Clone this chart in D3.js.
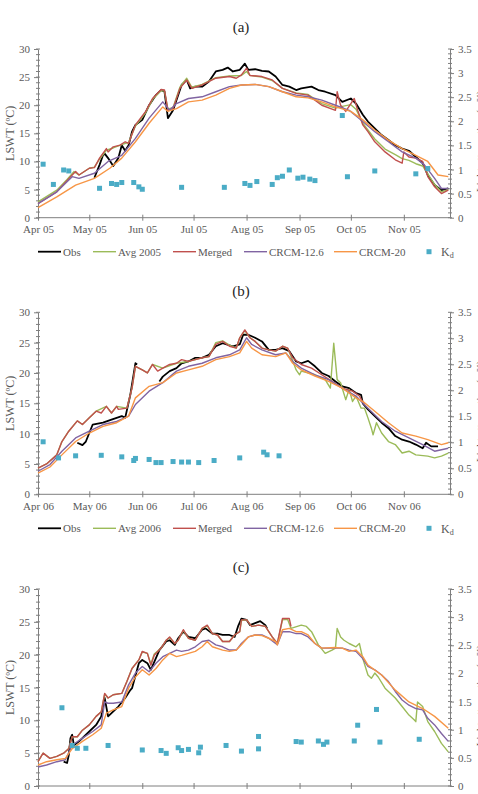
<!DOCTYPE html>
<html>
<head>
<meta charset="utf-8">
<script src="https://cdn.jsdelivr.net/npm/d3@7"></script>
<style>
  body { margin: 0; background: #fff; }
  svg { display: block; font-family: 'Liberation Serif', 'Times New Roman', serif; }
</style>
</head>
<body>
<div class="vis"></div>
<script>
// each point is [days after 1 April, value]; null marks a gap in the record
const obs05 = [[33,7.1],[36,9.4],[38,11.1],[39,11.4],[41,10.6],[44,9.2],[47,10.6],[49,12.9],[51,11.9],[53,12.9],[55,15.3],[57,16.5],[61,17.4],[65,20.0],[69,21.8],[72,22.7],[74,22.4],[76,17.7],[79,19.1],[84,23.6],[87,24.5],[89,23.0],[92,23.3],[96,23.3],[100,24.2],[104,26.0],[108,26.3],[111,26.7],[114,26.0],[118,26.3],[121,27.4],[123,26.3],[127,26.4],[131,26.1],[135,26.0],[139,25.1],[143,23.6],[147,23.3],[151,22.7],[154,23.0],[160,23.3],[164,22.7],[168,22.4],[174,21.8],[178,20.6],[183,21.2],[186,20.3],[190,18.3],[193,17.1],[197,15.9],[201,14.7],[205,13.8],[209,12.9],[213,12.3],[217,11.9],[221,10.8],[225,9.7],[228,7.6],[232,5.8],[236,4.9],[240,5.2]]
const avg05 = [[0,2.8],[11,4.9],[17,6.8],[21,8.2],[24,7.6],[30,8.8],[33,9.0],[36,10.4],[40,12.0],[44,12.4],[49,13.0],[53,13.4],[57,16.3],[63,18.7],[67,21.0],[72,22.6],[74,22.5],[76,19.3],[79,19.6],[83,23.2],[87,24.8],[90,23.2],[96,23.7],[104,24.9],[112,25.2],[119,25.3],[122,26.0],[124,25.3],[131,25.0],[137,24.4],[143,23.0],[151,22.2],[158,21.9],[166,20.3],[174,19.5],[178,19.8],[183,20.1],[186,19.3],[190,16.8],[193,15.6],[197,14.0],[203,12.2],[209,11.2],[213,10.5],[217,10.2],[221,9.6],[225,9.2],[228,7.8],[232,5.9],[236,4.6],[240,5.0]]
const merged05 = [[0,2.5],[11,4.6],[20,7.6],[22,8.2],[24,7.6],[30,8.8],[33,8.9],[36,10.6],[40,12.3],[41,11.7],[44,12.6],[48,12.9],[51,13.5],[53,13.2],[57,16.5],[63,18.9],[67,21.2],[72,22.8],[74,22.7],[76,19.1],[79,19.4],[83,23.0],[87,24.5],[90,23.0],[96,23.6],[104,24.8],[112,25.1],[116,24.8],[119,25.4],[122,26.6],[124,25.3],[131,25.1],[137,24.5],[143,23.0],[151,22.1],[158,21.8],[166,20.0],[174,19.1],[175,22.4],[177,20.0],[180,18.9],[183,20.3],[185,21.2],[187,19.1],[190,16.5],[193,15.3],[197,13.5],[203,11.7],[209,10.3],[213,9.7],[214,11.7],[217,10.8],[221,10.6],[225,10.0],[228,7.3],[232,5.5],[236,4.3],[240,4.9]]
const crcm126_05 = [[0,2.5],[11,4.6],[20,7.3],[24,7.0],[33,7.9],[41,10.0],[49,11.1],[57,14.1],[65,17.7],[73,20.6],[77,19.1],[81,20.3],[88,21.2],[96,21.5],[104,22.4],[112,23.3],[119,23.6],[127,23.7],[135,23.3],[143,22.4],[151,21.8],[158,21.5],[166,20.9],[174,20.0],[182,19.1],[190,17.1],[197,15.3],[205,13.5],[213,11.7],[221,10.6],[226,9.4],[232,7.0],[236,5.2],[240,5.2]]
const crcm20_05 = [[0,1.8],[11,3.7],[22,5.8],[33,7.0],[42,8.8],[49,10.6],[57,13.5],[65,16.8],[73,19.7],[76,18.9],[81,19.4],[88,20.6],[96,20.9],[104,21.8],[112,23.0],[119,23.6],[127,23.7],[135,23.3],[143,22.4],[151,21.5],[158,21.3],[166,20.6],[174,19.7],[183,18.9],[190,17.4],[197,15.6],[205,13.8],[213,12.3],[221,11.1],[228,10.0],[231,8.8],[234,7.6],[240,7.3]]
const kd05 = [[3,1.11],[9,0.69],[15,0.99],[18,0.97],[36,0.61],[43,0.71],[46,0.69],[49,0.73],[56,0.73],[59,0.64],[61,0.59],[84,0.63],[109,0.63],[121,0.71],[124,0.67],[128,0.75],[137,0.69],[140,0.83],[143,0.86],[147,0.99],[152,0.82],[155,0.84],[159,0.80],[162,0.77],[178,2.12],[181,0.85],[197,0.97],[221,0.91],[228,1.02]]

const obs06 = [[23,8.5],[26,8.1],[28,8.7],[32,11.5],[38,11.8],[43,12.3],[49,12.9],[51,12.6],[54,16.4],[57,21.6],[58,21.4],[59,null],[71,18.6],[73,19.4],[77,20.3],[81,20.8],[84,21.6],[88,21.9],[92,22.5],[96,22.5],[100,23.0],[104,24.4],[108,24.9],[114,24.4],[118,24.7],[120,26.3],[123,26.3],[127,25.8],[131,25.2],[135,23.8],[139,23.8],[143,24.1],[147,23.6],[151,21.9],[154,21.6],[158,22.0],[162,21.1],[166,20.0],[170,19.5],[174,18.6],[178,17.8],[182,17.5],[186,16.7],[189,16.4],[190,15.0],[193,14.0],[197,12.9],[201,11.8],[205,10.9],[209,9.6],[213,9.0],[217,8.7],[221,8.2],[225,7.6],[227,8.5],[230,7.9],[234,7.9]]
const avg06 = [[0,4.3],[5,5.0],[11,6.5],[14,8.7],[18,10.4],[23,12.1],[26,11.5],[30,12.6],[34,13.7],[40,14.5],[43,13.4],[46,14.5],[52,14.2],[55,17.5],[57,21.1],[61,20.5],[64,20.0],[67,21.4],[73,20.8],[81,21.6],[88,21.9],[96,22.5],[100,22.7],[104,25.0],[108,25.3],[112,24.6],[116,24.1],[118,25.8],[121,27.0],[124,25.8],[127,25.2],[131,24.1],[135,23.8],[139,23.6],[143,24.4],[146,24.1],[149,22.0],[151,20.5],[153,19.7],[154,20.3],[162,19.7],[168,18.9],[171,17.5],[173,24.9],[174,21.9],[175,18.9],[177,18.4],[180,15.6],[182,17.3],[184,15.3],[186,16.2],[189,14.2],[191,14.2],[193,12.6],[195,10.9],[196,9.8],[198,11.8],[201,10.1],[205,8.7],[209,8.2],[213,6.8],[217,7.1],[221,6.5],[228,6.3],[232,6.0],[236,6.3],[240,6.8]]
const merged06 = [[0,4.3],[5,5.0],[11,6.5],[14,8.7],[18,10.4],[23,12.1],[26,11.5],[30,12.6],[34,13.7],[37,13.4],[40,14.5],[43,13.4],[46,14.5],[47,14.0],[52,14.2],[55,17.5],[57,21.1],[61,20.5],[64,20.0],[67,21.4],[70,20.3],[73,20.8],[77,21.4],[81,21.6],[84,22.2],[88,21.9],[92,22.2],[96,22.5],[100,22.7],[104,24.7],[108,25.2],[112,24.4],[116,24.1],[118,25.8],[121,27.1],[124,25.8],[127,25.2],[131,24.1],[135,23.8],[139,23.6],[143,24.4],[146,24.1],[149,22.5],[154,21.4],[160,20.8],[166,19.7],[172,18.6],[178,17.5],[184,17.0],[188,16.2],[191,14.8]]
const crcm126_06 = [[0,3.8],[7,4.9],[14,7.1],[22,9.3],[30,10.4],[38,11.5],[46,12.0],[53,12.9],[57,14.8],[65,17.0],[73,18.4],[81,20.3],[88,21.1],[96,21.6],[104,22.5],[112,23.0],[118,23.8],[122,25.8],[125,24.7],[131,23.8],[139,23.0],[145,23.3],[149,21.9],[154,20.8],[162,19.7],[170,18.9],[178,17.5],[186,16.2],[193,14.2],[201,12.0],[209,10.4],[217,9.3],[225,8.2],[232,7.1],[240,7.6]]
const crcm20_06 = [[0,3.5],[7,4.5],[14,6.5],[22,8.7],[30,10.1],[38,11.2],[46,11.8],[53,12.9],[57,15.9],[65,17.8],[73,18.4],[81,20.0],[88,20.5],[96,21.1],[104,22.2],[112,22.7],[118,23.3],[122,25.2],[125,24.1],[131,23.0],[139,22.7],[145,23.3],[149,21.6],[154,20.5],[162,19.5],[170,18.6],[178,17.5],[186,15.9],[191,15.1],[197,13.7],[205,11.8],[213,10.1],[221,9.6],[228,9.0],[236,8.2],[240,8.5]]
const kd06 = [[3,1.01],[12,0.70],[22,0.74],[37,0.75],[49,0.72],[56,0.65],[57,0.69],[65,0.67],[69,0.61],[72,0.61],[79,0.63],[84,0.62],[88,0.62],[94,0.61],[103,0.65],[118,0.70],[132,0.81],[134,0.76],[141,0.74]]

const obs07 = [[15,3.7],[17,3.5],[18,4.7],[19,7.3],[20,7.8],[21,6.2],[24,6.8],[30,8.3],[34,9.3],[37,10.6],[39,13.4],[41,10.6],[43,11.1],[47,12.1],[51,13.4],[54,14.6],[55,14.9],[59,18.7],[61,19.2],[64,18.7],[66,17.7],[71,20.7],[75,22.0],[77,22.2],[80,21.5],[82,22.5],[85,23.5],[88,22.7],[92,22.5],[96,23.8],[98,24.0],[102,23.2],[105,23.2],[108,23.0],[112,23.0],[115,22.7],[117,24.3],[119,25.5],[122,25.3],[124,24.5],[127,24.8],[130,25.1],[133,24.5],[134,24.0]]
const avg07 = [[0,3.7],[3,5.0],[7,4.2],[11,4.5],[15,5.0],[18,5.7],[20,7.5],[23,7.5],[26,8.5],[30,9.3],[34,10.6],[37,11.3],[39,14.0],[41,13.4],[44,13.9],[49,14.1],[52,15.9],[55,17.9],[59,19.2],[61,20.4],[64,20.2],[66,18.6],[68,20.1],[72,21.0],[75,22.2],[77,22.6],[80,21.7],[82,22.2],[85,23.7],[88,22.5],[92,22.2],[96,24.0],[99,24.4],[102,23.2],[105,23.0],[108,22.0],[112,22.0],[115,23.0],[118,23.5],[119,25.2],[122,25.3],[125,24.3],[129,24.5],[133,24.3],[137,22.7],[140,21.7],[143,25.3],[146,25.4],[148,24.0],[154,24.5],[157,24.3],[160,23.5],[164,21.5],[168,20.2],[172,20.7],[174,21.0],[175,24.0],[177,22.7],[179,22.2],[182,21.7],[186,21.2],[188,21.7],[190,19.4],[193,16.9],[195,16.4],[197,17.2],[199,16.6],[203,14.9],[209,13.4],[213,12.1],[217,10.8],[220,10.1],[221,9.8],[222,12.8],[225,12.1],[228,9.8],[232,8.3],[236,6.5],[240,5.2]]
const merged07 = [[0,3.7],[3,5.0],[7,4.2],[11,4.5],[15,5.0],[18,5.7],[20,7.5],[23,7.5],[26,8.5],[30,9.3],[34,10.6],[37,11.3],[39,14.1],[41,13.4],[44,13.9],[49,14.1],[52,15.9],[55,17.9],[59,19.2],[61,20.5],[64,20.2],[66,18.4],[68,19.9],[72,21.0],[75,22.2],[77,22.7],[80,21.7],[82,22.2],[85,23.8],[88,22.5],[92,22.2],[96,24.0],[99,24.5],[102,23.2],[105,23.0],[108,22.0],[112,22.0],[115,23.0],[118,23.5],[119,25.3],[122,25.3],[125,24.3],[129,24.5],[133,24.3],[137,22.7],[140,21.7],[143,25.5],[146,25.5],[147,25.5],[148,24.3]]
const crcm126_07 = [[0,2.9],[5,3.2],[11,3.7],[16,4.0],[20,6.2],[26,7.3],[32,8.3],[37,9.3],[39,12.8],[41,12.6],[44,12.6],[49,12.8],[53,15.4],[57,17.2],[61,18.2],[65,17.4],[69,18.7],[73,19.7],[77,20.2],[81,20.7],[84,20.5],[88,20.7],[92,21.2],[96,22.0],[100,22.2],[104,21.5],[108,21.2],[112,20.7],[116,20.7],[119,21.7],[123,22.7],[127,23.0],[131,23.0],[135,22.5],[139,21.7],[140,21.5],[143,23.5],[147,23.5],[151,23.2],[154,23.2],[158,22.7],[162,21.7],[166,21.0],[170,21.0],[174,21.0],[178,21.0],[182,20.7],[186,20.5],[190,19.4],[193,18.2],[197,17.7],[201,16.9],[205,15.9],[209,14.4],[213,13.1],[217,12.3],[221,11.8],[225,11.6],[228,10.3],[232,9.3],[236,8.0],[240,6.8]]
const crcm20_07 = [[0,3.2],[5,3.7],[11,4.0],[16,4.2],[20,5.7],[26,6.8],[32,7.8],[37,8.8],[40,11.1],[44,11.6],[49,12.1],[53,14.9],[57,16.6],[61,17.7],[65,16.9],[69,17.9],[73,19.2],[77,20.2],[81,19.7],[84,19.9],[88,20.2],[92,20.5],[96,21.2],[99,22.0],[102,21.2],[108,20.7],[112,20.5],[116,20.7],[119,21.5],[123,22.7],[127,23.0],[131,22.9],[135,22.5],[139,22.0],[140,21.5],[143,23.8],[147,24.0],[151,23.5],[154,23.5],[158,23.0],[162,21.7],[166,21.0],[174,21.1],[178,21.0],[182,20.5],[186,20.7],[190,19.7],[193,18.4],[201,16.9],[209,14.6],[217,12.8],[225,11.8],[232,10.6],[240,8.8]]
const kd07 = [[14,1.39],[20,0.72],[23,0.67],[28,0.67],[41,0.72],[61,0.64],[72,0.63],[75,0.58],[82,0.68],[84,0.63],[88,0.65],[94,0.59],[95,0.69],[110,0.72],[119,0.62],[129,0.66],[129,0.88],[151,0.79],[154,0.78],[164,0.80],[167,0.74],[169,0.78],[185,0.80],[187,1.08],[198,1.36],[200,0.78],[223,0.83]]

const seriesNames = ['Obs', 'Avg', 'Merged', 'CRCM-12.6', 'CRCM-20']
const leftTicks = [0, 5, 10, 15, 20, 25, 30]
const rightTicks = [0, 0.5, 1, 1.5, 2, 2.5, 3, 3.5]

const color = d3.scaleOrdinal(seriesNames.concat('Kd'), [
  '#000000',
  '#9bbb59',
  '#c0504d',
  '#8064a2',
  '#f79646',
  '#4bacc6'
])

// the last panel is cut at the bottom of the page, so its month labels are not drawn
const panels = [
  { label: '(a)', year: 2005, top: 49, bottom: 217.7, monthLabels: true,
    lines: [obs05, avg05, merged05, crcm126_05, crcm20_05], kd: kd05 },
  { label: '(b)', year: 2006, top: 312.3, bottom: 494.3, monthLabels: true,
    lines: [obs06, avg06, merged06, crcm126_06, crcm20_06], kd: kd06 },
  { label: '(c)', year: 2007, top: 589, bottom: 786, monthLabels: false,
    lines: [obs07, avg07, merged07, crcm126_07, crcm20_07], kd: kd07 }
]

const width = 478
const height = 794
const left = 38
const right = 450
const axisColor = '#7f7f7f'
const textColor = '#595959'

const svg = d3
  .select('.vis')
  .append('svg')
  .attr('width', width)
  .attr('height', height)

panels.forEach(p => {
  const start = new Date(p.year, 3, 1)
  const x = d3
    .scaleTime()
    .domain([start, new Date(p.year, 10, 28)])
    .range([left, right])
  const y = d3.scaleLinear().domain([0, 30]).range([p.bottom, p.top])
  const yKd = d3.scaleLinear().domain([0, 3.5]).range([p.bottom, p.top])
  const day = d => d3.timeDay.offset(start, d)

  const g = svg.append('g')

  // panel title
  g.append('text')
    .attr('x', 241)
    .attr('y', p.top - 22)
    .attr('dy', '0.35em')
    .attr('text-anchor', 'middle')
    .attr('font-size', 15)
    .attr('fill', '#262626')
    .text(p.label)

  // x axis
  const xAxis = d3
    .axisBottom(x)
    .tickValues(d3.timeMonth.range(start, new Date(p.year, 10, 2)))
    .tickFormat(p.monthLabels ? d3.timeFormat('%b %y') : '')
    .tickSizeInner(3)
    .tickSizeOuter(0)
    .tickPadding(5)
  const gx = g
    .append('g')
    .attr('transform', `translate(0,${p.bottom})`)
    .call(xAxis)
  gx.select('.domain').attr('stroke', axisColor).attr('d', `M${left},0H${right}`)
  gx.selectAll('.tick line').attr('y1', -3).attr('y2', 3).attr('stroke', axisColor)
  if (!p.monthLabels) gx.selectAll('.tick text').remove()

  // left axis, major and minor ticks
  const yAxis = d3
    .axisLeft(y)
    .tickValues(leftTicks)
    .tickSizeInner(4)
    .tickSizeOuter(0)
    .tickPadding(4)
  const gy = g
    .append('g')
    .attr('transform', `translate(${left},0)`)
    .call(yAxis)
  gy.select('.domain').attr('stroke', axisColor)
  gy.selectAll('.tick line').attr('stroke', axisColor)
  gy.selectAll('.minor')
    .data(d3.range(0, 31, 1))
    .join('line')
    .attr('class', 'minor')
    .attr('x1', -2)
    .attr('x2', 2)
    .attr('y1', d => y(d))
    .attr('y2', d => y(d))
    .attr('stroke', axisColor)

  g.append('text')
    .attr('transform', `translate(14,${(p.top + p.bottom) / 2}) rotate(-90)`)
    .attr('text-anchor', 'middle')
    .attr('font-size', 12)
    .attr('fill', textColor)
    .text('LSWT (ºC)')

  // right axis for Kd
  const yAxisR = d3
    .axisRight(yKd)
    .tickValues(rightTicks)
    .tickFormat(d3.format('~g'))
    .tickSizeInner(4)
    .tickSizeOuter(0)
    .tickPadding(4)
  const gr = g
    .append('g')
    .attr('transform', `translate(${right},0)`)
    .call(yAxisR)
  gr.select('.domain').attr('stroke', axisColor)
  gr.selectAll('.tick line').attr('stroke', axisColor)
  gr.selectAll('.minor')
    .data(d3.range(0, 36, 1).map(d => d / 10))
    .join('line')
    .attr('class', 'minor')
    .attr('x1', -2)
    .attr('x2', 2)
    .attr('y1', d => yKd(d))
    .attr('y2', d => yKd(d))
    .attr('stroke', axisColor)

  // right title: only the tops of its letters fall inside the page
  g.append('text')
    .attr('transform', `translate(484,${(p.top + p.bottom) / 2 + 8}) rotate(-90)`)
    .attr('text-anchor', 'middle')
    .attr('font-size', 11)
    .attr('fill', textColor)
    .text('Light attenuation (m⁻¹)')

  ;[gx, gy, gr].forEach(a =>
    a.selectAll('.tick text').attr('fill', textColor).attr('font-size', 11).attr('font-family', 'Liberation Serif')
  )

  // temperature lines
  const line = d3
    .line()
    .defined(d => d[1] !== null)
    .x(d => x(day(d[0])))
    .y(d => y(d[1]))

  p.lines.forEach((data, i) => {
    g.append('path')
      .datum(data)
      .attr('fill', 'none')
      .attr('stroke', color(seriesNames[i]))
      .attr('stroke-width', i === 0 ? 1.8 : 1.4)
      .attr('stroke-linejoin', 'round')
      .attr('d', line)
  })

  // Kd points
  g.selectAll('.kd')
    .data(p.kd)
    .join('rect')
    .attr('class', 'kd')
    .attr('x', d => x(day(d[0])) - 2.5)
    .attr('y', d => yKd(d[1]) - 2.5)
    .attr('width', 5)
    .attr('height', 5)
    .attr('fill', color('Kd'))

  // legend
  const legendY = p.bottom + 34
  const items = [
    { key: 'Obs', text: 'Obs', x: 38 },
    { key: 'Avg', text: `Avg ${p.year}`, x: 93 },
    { key: 'Merged', text: 'Merged', x: 173 },
    { key: 'CRCM-12.6', text: 'CRCM-12.6', x: 244 },
    { key: 'CRCM-20', text: 'CRCM-20', x: 334 }
  ]
  const lg = g.append('g').attr('transform', `translate(0,${legendY})`)
  items.forEach(it => {
    lg.append('line')
      .attr('x1', it.x)
      .attr('x2', it.x + 23)
      .attr('stroke', color(it.key))
      .attr('stroke-width', it.key === 'Obs' ? 1.8 : 1.4)
    lg.append('text')
      .attr('x', it.x + 25)
      .attr('dy', '0.35em')
      .attr('font-size', 11)
      .attr('fill', textColor)
      .text(it.text)
  })
  lg.append('rect')
    .attr('x', 426.5)
    .attr('y', -2.5)
    .attr('width', 5)
    .attr('height', 5)
    .attr('fill', color('Kd'))
  const kdText = lg.append('text')
    .attr('x', 441)
    .attr('dy', '0.35em')
    .attr('font-size', 12)
    .attr('fill', textColor)
    .text('K')
  kdText.append('tspan').attr('font-size', 8).attr('dy', '0.25em').text('d')
})
</script>
</body>
</html>
